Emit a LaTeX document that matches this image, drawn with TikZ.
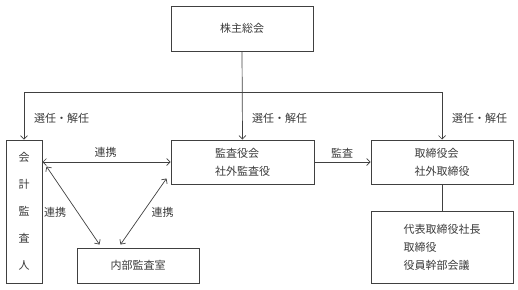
\documentclass[tikz,border=0pt]{standalone}
\usepackage{fontspec}
\setmainfont{Noto Sans CJK JP}
\usetikzlibrary{arrows.meta,calc}
\definecolor{linec}{HTML}{404040}
\definecolor{textc}{HTML}{3A3A3A}
\begin{document}
\begin{tikzpicture}[x=1pt,y=-1pt,
  every node/.style={text=textc,font=\fontsize{11}{18}\selectfont},
  box/.style={draw=linec,line width=1pt,inner sep=0pt,align=left},
  conn/.style={draw=linec,line width=0.7pt},
  arr/.style={conn,-{Straight Barb[length=3.5pt,width=7pt]}},
  darr/.style={conn,{Straight Barb[length=3.5pt,width=7pt]}-{Straight Barb[length=3.5pt,width=7pt]}},
  lab/.style={inner sep=0pt}]
\useasboundingbox (0,0) rectangle (518,289);
\node[box,minimum width=142pt,minimum height=45pt] (top) at (242,28.5) {株主総会};
\node[box,minimum width=36pt,minimum height=143pt,align=center,font=\fontsize{11}{27}\selectfont] (acc) at (24,211.5) {会\\計\\監\\査\\人};
\node[box,minimum width=143pt,minimum height=44pt] (aud) at (242.5,162) {監査役会\\社外監査役};
\node[box,minimum width=142pt,minimum height=44pt] (dir) at (442,162) {取締役会\\社外取締役};
\node[box,minimum width=142pt,minimum height=72pt] (exec) at (442,247.5) {代表取締役社長\\取締役\\役員幹部会議};
\node[box,minimum width=122pt,minimum height=35pt] (int) at (138,265.5) {内部監査室};
\coordinate (bus) at ($(top.south)+(0,41)$);
\draw[arr] (top.south) -- (aud.north);
\draw[arr] (bus) -| (acc.north);
\draw[arr] (bus) -| (dir.north);
\draw[darr] (acc.east |- aud.west) -- (aud.west);
\draw[arr] (aud.east) -- (dir.west);
\draw[conn] (dir.south) -- (exec.north);
\draw[darr] ($(acc.north east)+(4,27)$) -- ($(int.north west)+(23,-3)$);
\draw[darr] ($(int.north west)+(44,-3)$) -- ($(aud.south west)+(-4,-6)$);
\node[lab] (l1) at (61.5,118) {選任・解任};
\node[lab] (l2) at (279.5,118) {選任・解任};
\node[lab] (l3) at (479.5,118) {選任・解任};
\node[lab] (l4) at (105.5,152) {連携};
\node[lab] (l5) at (55,212) {連携};
\node[lab] (l6) at (162.5,212) {連携};
\node[lab] (l7) at (342,153) {監査};
\end{tikzpicture}
\end{document}
